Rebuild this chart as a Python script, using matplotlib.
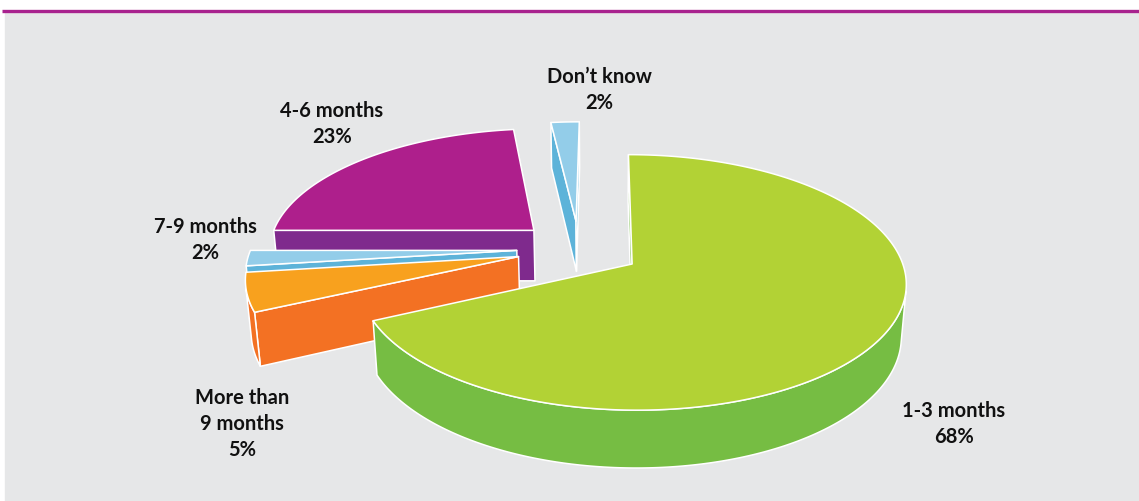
import numpy as np
import matplotlib.pyplot as plt
from matplotlib.patches import Polygon, Rectangle

# slices, clockwise from 12 o'clock
labels = ['1-3 months', 'More than\n9 months', '7-9 months', '4-6 months', 'Don\u2019t know']
shares = [68, 5, 2, 23, 2]
top_colors = ['#b2d235', '#f8a11e', '#93cde9', '#ae1f8c', '#93cde9']
side_colors = ['#76bd43', '#f37123', '#5db3d9', '#7f2a8d', '#5db3d9']
label_xy = [(954, 424), (242, 424), (205, 240), (332, 124), (599, 90)]

# fake 3d camera
ELEV = np.radians(27)
DIST = 6.3
FOCAL = 1675
CAM_X = 0.09
X0, Y0 = 603, 249.6
THICK = 0.22
EXPLODE = 0.234

cam = np.array([CAM_X, -DIST * np.cos(ELEV), DIST * np.sin(ELEV)])


def project(X, Y, Z):
    d = Y * np.cos(ELEV) - Z * np.sin(ELEV) + DIST
    v = Y * np.sin(ELEV) + Z * np.cos(ELEV)
    return np.column_stack([X0 + FOCAL * (X - CAM_X) / d, Y0 - FOCAL * v / d])


def facing(normal, point):
    return np.dot(normal, cam - point) > 0


fig = plt.figure(figsize=(11.39, 5.02), dpi=100)
ax = fig.add_axes([0, 0, 1, 1])
ax.set_xlim(0, 1139)
ax.set_ylim(502, 0)
ax.axis('off')

ax.add_patch(Rectangle((5, 12), 1134, 490, color='#e6e7e8', zorder=0))
ax.plot([2, 1139], [11.5, 11.5], color='#a8228e', lw=2.4, solid_capstyle='butt', zorder=1)

edge = dict(ec='white', lw=1.1, joinstyle='round')

bounds = np.concatenate([[0], np.cumsum(shares)]) / sum(shares) * 360
slices = []
for i in range(len(shares)):
    a0, a1 = np.radians(bounds[i]), np.radians(bounds[i + 1])
    mid = (a0 + a1) / 2
    ox, oy = EXPLODE * np.sin(mid), EXPLODE * np.cos(mid)
    slices.append((oy, i, a0, a1, ox))

# painter's order: far slices first
for oy, i, a0, a1, ox in sorted(slices, reverse=True):
    t = np.linspace(a0, a1, max(int(np.degrees(a1 - a0)), 2) * 2)
    rx, ry = ox + np.sin(t), oy + np.cos(t)
    zs = np.zeros_like(t)

    # cut faces
    for a, nrm in [(a0, np.array([-np.cos(a0), np.sin(a0), 0])),
                   (a1, np.array([np.cos(a1), -np.sin(a1), 0]))]:
        p = np.array([ox, oy, 0])
        if facing(nrm, p):
            X = np.array([ox, ox + np.sin(a), ox + np.sin(a), ox])
            Y = np.array([oy, oy + np.cos(a), oy + np.cos(a), oy])
            Z = np.array([0, 0, -THICK, -THICK])
            ax.add_patch(Polygon(project(X, Y, Z), closed=True, fc=side_colors[i], **edge))

    # outer wall, visible runs only
    vis = np.array([facing(np.array([np.sin(a), np.cos(a), 0]),
                           np.array([x, y, 0])) for a, x, y in zip(t, rx, ry)])
    idx = np.flatnonzero(vis)
    if len(idx):
        runs = np.split(idx, np.flatnonzero(np.diff(idx) > 1) + 1)
        for r in runs:
            if len(r) < 2:
                continue
            top = project(rx[r], ry[r], zs[r])
            bot = project(rx[r], ry[r], zs[r] - THICK)
            ax.add_patch(Polygon(np.vstack([top, bot[::-1]]), closed=True,
                                 fc=side_colors[i], **edge))

    # top face
    X = np.concatenate([[ox], rx])
    Y = np.concatenate([[oy], ry])
    ax.add_patch(Polygon(project(X, Y, np.zeros_like(X)), closed=True,
                         fc=top_colors[i], **edge))

for i, (lx, ly) in enumerate(label_xy):
    ax.text(lx, ly, f'{labels[i]}\n{shares[i]}%', ha='center', va='center',
            fontsize=14.5, fontweight='bold', family='Lato', color='#111111',
            linespacing=1.4)

fig.savefig('out.png', dpi=100)
